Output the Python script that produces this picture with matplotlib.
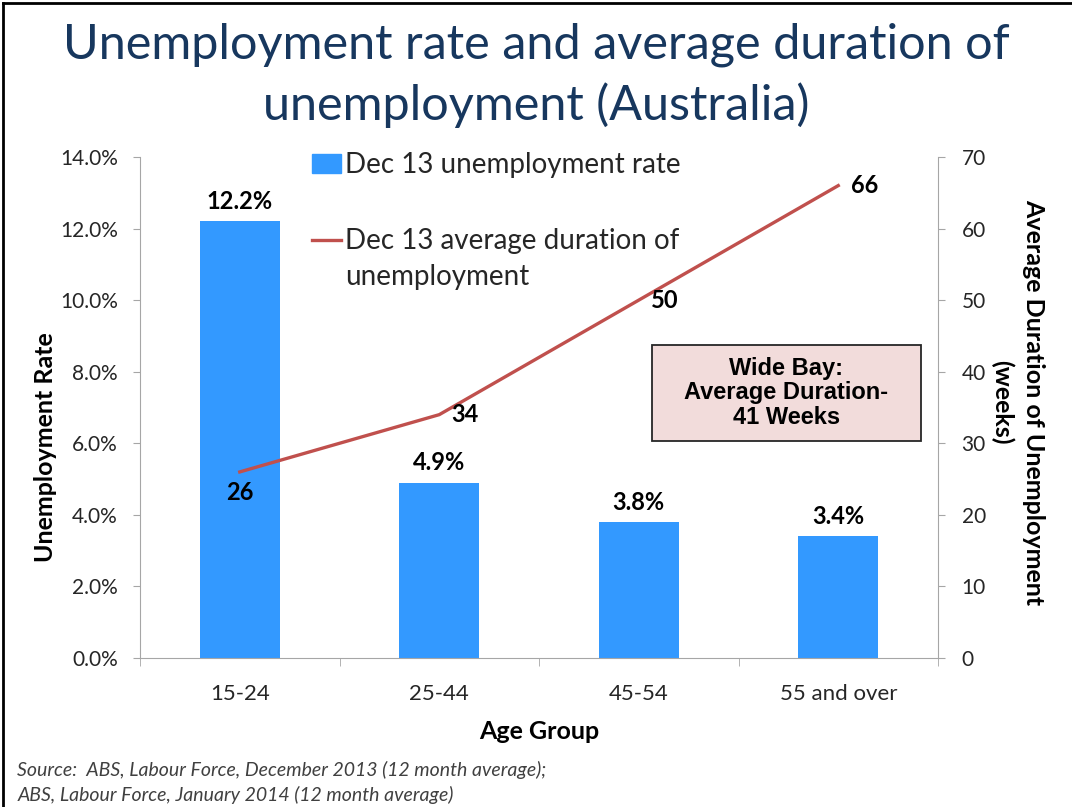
import matplotlib.pyplot as plt
import matplotlib.patches as mpatches
from matplotlib.lines import Line2D
import numpy as np

# data
age_groups = ['15-24', '25-44', '45-54', '55 and over']
unemp_rate = [12.2, 4.9, 3.8, 3.4]      # per cent
avg_duration = [26, 34, 50, 66]         # weeks
rate_ticks = [0, 2, 4, 6, 8, 10, 12, 14]
week_ticks = [0, 10, 20, 30, 40, 50, 60, 70]

bar_color = '#3399FF'
line_color = '#C0504D'
title_color = '#17375E'
text_color = '#262626'
axis_gray = '#A6A6A6'

plt.rcParams['font.family'] = ['Lato', 'DejaVu Sans']

fig = plt.figure(figsize=(10.72, 8.07), dpi=100)
ax = fig.add_axes([0.1306, 0.1846, 0.7444, 0.6209])
ax2 = ax.twinx()

x = np.arange(len(age_groups))
bars = ax.bar(x, unemp_rate, width=0.4, color=bar_color, zorder=2)
ax.set_xlim(-0.5, len(age_groups) - 0.5)
ax.set_ylim(0, 14)
ax.set_yticks(rate_ticks)
ax.set_yticklabels([f'{v:.1f}%' for v in rate_ticks])

# category labels centred, tick marks on category boundaries
ax.set_xticks(x)
ax.set_xticklabels(age_groups)
ax.set_xticks(np.arange(len(age_groups) + 1) - 0.5, minor=True)
ax.tick_params(axis='x', which='major', length=0, pad=19, labelsize=16, labelcolor=text_color)
ax.tick_params(axis='x', which='minor', length=6, color=axis_gray, direction='out')
ax.tick_params(axis='y', length=5, color=axis_gray, pad=11, labelsize=15, labelcolor=text_color)

for b, v in zip(bars, unemp_rate):
    ax.annotate(f'{v:.1f}%', (b.get_x() + b.get_width() / 2, v), xytext=(0, 6),
                textcoords='offset points', ha='center', va='bottom',
                fontsize=17, fontweight='bold', color='black')

line, = ax2.plot(x, avg_duration, color=line_color, lw=2.4, zorder=3)
ax2.set_ylim(0, 70)
ax2.set_yticks(week_ticks)
ax2.tick_params(axis='y', length=5, color=axis_gray, pad=12, labelsize=15, labelcolor=text_color)

for i, v in enumerate(avg_duration):
    if i == 0:
        ax2.annotate(str(v), (x[i], v), xytext=(0, -15), textcoords='offset points',
                     ha='center', va='center', fontsize=17, fontweight='bold')
    else:
        ax2.annotate(str(v), (x[i], v), xytext=(9, 0), textcoords='offset points',
                     ha='left', va='center', fontsize=17, fontweight='bold')

for a in (ax, ax2):
    a.spines['top'].set_visible(False)
    for s in ('left', 'right', 'bottom'):
        a.spines[s].set_color(axis_gray)
ax.spines['right'].set_visible(False)
ax2.spines['left'].set_visible(False)
ax2.spines['bottom'].set_visible(False)

ax.set_xlabel('Age Group', fontsize=18, fontweight='bold', labelpad=11)
ax.set_ylabel('Unemployment Rate', fontsize=18, fontweight='bold')
ax.yaxis.set_label_coords(-0.104, 0.42)
ax2.set_ylabel('Average Duration of Unemployment\n(weeks)', fontsize=18,
               fontweight='bold', rotation=270, va='center', linespacing=1.45)
ax2.yaxis.set_label_coords(1.10, 0.51)

# legend
handles = [mpatches.Patch(color=bar_color), Line2D([], [], color=line_color, lw=2.4)]
leg = ax2.legend(handles, ['Dec 13 unemployment rate', 'Dec 13 average duration of'],
                 loc='upper left', bbox_to_anchor=(0.215, 1.009), frameon=False,
                 fontsize=20, borderpad=0, borderaxespad=0, handlelength=1.05,
                 handletextpad=0.15, labelspacing=1.8, labelcolor=text_color)
ax2.annotate('unemployment', xy=(0, 0), xycoords=leg.get_texts()[1], xytext=(0, -7),
             textcoords='offset points', ha='left', va='top', fontsize=20,
             color=text_color, zorder=7)

# Wide Bay box
ax2.add_patch(mpatches.Rectangle((0.641, 0.433), 0.338, 0.192, transform=ax2.transAxes,
                                 facecolor='#F2DCDB', edgecolor='#262626', lw=1.3, zorder=4))
ax2.text(0.81, 0.529, 'Wide Bay:\nAverage Duration-\n41 Weeks', transform=ax2.transAxes,
         ha='center', va='center', fontsize=17, fontweight='bold',
         family=['Liberation Sans', 'DejaVu Sans'], linespacing=1.1, zorder=5)

fig.text(0.5, 0.944, 'Unemployment rate and average duration of', ha='center', va='center',
         fontsize=35, color=title_color)
fig.text(0.5, 0.870, 'unemployment (Australia)', ha='center', va='center',
         fontsize=35, color=title_color)

fig.text(0.016, 0.046, 'Source:  ABS, Labour Force, December 2013 (12 month average);',
         fontsize=14, style='italic', color='#404040', va='center')
fig.text(0.016, 0.015, 'ABS, Labour Force, January 2014 (12 month average)',
         fontsize=14, style='italic', color='#404040', va='center')

# top and left frame lines of the slide
fig.add_artist(Line2D([0.003, 0.003], [0, 0.996], transform=fig.transFigure, color='black', lw=2))
fig.add_artist(Line2D([0.003, 1], [0.996, 0.996], transform=fig.transFigure, color='black', lw=2))

fig.savefig('out.png', dpi=100)
